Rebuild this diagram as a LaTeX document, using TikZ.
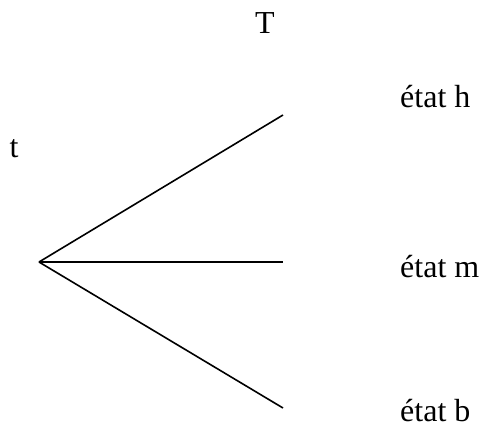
\documentclass[tikz,border=0pt]{standalone}
\usepackage{fontspec}
\setmainfont{Liberation Serif}
\usepackage{xcolor}

\begin{document}
\begin{tikzpicture}[x=1pt, y=-1pt, branch/.style={line width=1.6pt},
    lbl/.style={inner sep=0pt, font=\fontsize{32}{38}\selectfont}]
    \useasboundingbox (0, 0) rectangle (481, 426);
    \coordinate (r) at (39, 262);
    \coordinate (h) at (283, 115);
    \coordinate (m) at (283, 262);
    \coordinate (b) at (283, 408);
    \node[lbl, anchor=base] (tT) at (265, 33) {T};
    \node[lbl, anchor=base] (tt) at (14, 157) {t};
    \node[lbl, anchor=base west] (eh) at (400, 107) {état h};
    \node[lbl, anchor=base west] (em) at (400, 277) {état m};
    \node[lbl, anchor=base west] (eb) at (400, 421) {état b};
    \draw[branch] (r) -- (h);
    \draw[branch] (r) -- (m);
    \draw[branch] (r) -- (b);
\end{tikzpicture}
\end{document}
